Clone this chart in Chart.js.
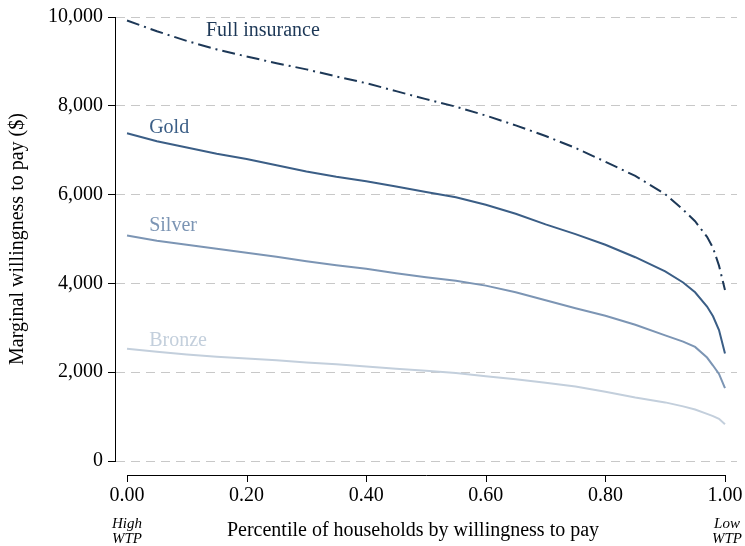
<!DOCTYPE html>
<html>
<head>
<meta charset="utf-8">
<script src="https://cdn.jsdelivr.net/npm/chart.js@4"></script>
<style>
html,body{margin:0;padding:0;background:#fff;}
#c{display:block;}
</style>
</head>
<body>
<canvas id="c" width="745" height="546" style="width:745px;height:546px"></canvas>
<script>
const percentiles = [0, 0.05, 0.1, 0.15, 0.2, 0.25, 0.3, 0.35, 0.4, 0.45, 0.5, 0.55, 0.6, 0.65, 0.7, 0.75, 0.8, 0.85, 0.9, 0.93, 0.95, 0.97, 0.98, 0.99, 1.0];
const fullInsurance = [9920, 9680, 9460, 9270, 9110, 8960, 8820, 8660, 8510, 8330, 8150, 7980, 7780, 7560, 7320, 7050, 6740, 6420, 6010, 5660, 5400, 5050, 4800, 4400, 3850];
const gold = [7380, 7200, 7060, 6920, 6800, 6660, 6520, 6400, 6300, 6180, 6060, 5940, 5770, 5570, 5330, 5110, 4870, 4590, 4270, 4020, 3800, 3480, 3260, 2950, 2420];
const silver = [5080, 4960, 4870, 4780, 4690, 4600, 4500, 4410, 4330, 4230, 4140, 4060, 3950, 3800, 3620, 3440, 3270, 3070, 2830, 2690, 2570, 2330, 2150, 1960, 1640];
const bronze = [2530, 2460, 2400, 2350, 2310, 2270, 2220, 2180, 2130, 2080, 2030, 1980, 1910, 1840, 1760, 1680, 1560, 1430, 1320, 1230, 1160, 1060, 1010, 950, 830];
const xTicks = [0, 0.2, 0.4, 0.6, 0.8, 1.0];
const yTicks = [0, 2000, 4000, 6000, 8000, 10000];
const seriesNames = ['Full insurance', 'Gold', 'Silver', 'Bronze'];
const colors = ['#1d3857', '#3b5e86', '#7c95b4', '#c3cfdc'];
const xTitle = 'Percentile of households by willingness to pay';
const yTitle = 'Marginal willingness to pay ($)';

const SERIF = '"Liberation Serif", "Times New Roman", serif';

function pts(vals){ return percentiles.map((p,i)=>({x:p, y:vals[i]})); }

const labelPos = [
  {x:0.132, y:9700},
  {x:0.037, y:7500},
  {x:0.037, y:5300},
  {x:0.037, y:2700}
];

const extras = {
  id: 'extras',
  afterDraw(chart){
    const ctx = chart.ctx;
    const xs = chart.scales.x, ys = chart.scales.y;
    ctx.save();
    const ay = 475;
    const x0 = xs.getPixelForValue(0), x1 = xs.getPixelForValue(1);
    ctx.strokeStyle = '#000';
    ctx.lineWidth = 1;
    ctx.beginPath();
    ctx.moveTo(Math.round(x0), ay + 0.5); ctx.lineTo(Math.round(x1) + 1, ay + 0.5);
    xTicks.forEach(t => {
      const px = Math.round(xs.getPixelForValue(t)) + 0.5;
      ctx.moveTo(px, ay); ctx.lineTo(px, ay + 7);
    });
    ctx.stroke();
    ctx.fillStyle = '#000';
    ctx.font = '20px ' + SERIF;
    ctx.textAlign = 'center';
    ctx.textBaseline = 'middle';
    ctx.fillText(xTitle, 413, 531);
    ctx.font = 'italic 15px ' + SERIF;
    ctx.fillText('High', x0, 524);
    ctx.fillText('WTP', x0, 539);
    ctx.fillText('Low', x1 + 2, 524);
    ctx.fillText('WTP', x1 + 2, 539);
    ctx.font = '20px ' + SERIF;
    ctx.textAlign = 'left';
    seriesNames.forEach((n, i) => {
      ctx.fillStyle = colors[i];
      ctx.fillText(n, xs.getPixelForValue(labelPos[i].x), ys.getPixelForValue(labelPos[i].y));
    });
    ctx.restore();
  }
};

new Chart(document.getElementById('c'), {
  type: 'line',
  data: {
    datasets: [
      {label: seriesNames[0], data: pts(fullInsurance), borderColor: colors[0], borderWidth: 2, borderDash: [13,5,2,5], pointRadius: 0, tension: 0, fill: false},
      {label: seriesNames[1], data: pts(gold), borderColor: colors[1], borderWidth: 2, pointRadius: 0, tension: 0, fill: false},
      {label: seriesNames[2], data: pts(silver), borderColor: colors[2], borderWidth: 2, pointRadius: 0, tension: 0, fill: false},
      {label: seriesNames[3], data: pts(bronze), borderColor: colors[3], borderWidth: 2, pointRadius: 0, tension: 0, fill: false}
    ]
  },
  options: {
    responsive: false,
    devicePixelRatio: 1,
    animation: false,
    layout: {padding: {top: 16, right: 8, left: 0, bottom: 0}},
    plugins: {legend: {display: false}, tooltip: {enabled: false}},
    scales: {
      x: {
        type: 'linear',
        min: -0.0201,
        max: 1.0201,
        afterBuildTicks(scale){ scale.ticks = xTicks.map(v => ({value: v})); },
        afterFit(scale){ scale.height = 85; scale.paddingLeft = 0; scale.paddingRight = 0; },
        grid: {display: false, drawTicks: false},
        border: {display: false},
        ticks: {
          color: '#000',
          font: {family: SERIF, size: 20},
          padding: 23,
          maxRotation: 0,
          autoSkip: false,
          callback: v => Number(v).toFixed(2)
        }
      },
      y: {
        type: 'linear',
        min: 0,
        max: 10000,
        afterBuildTicks(scale){ scale.ticks = yTicks.map(v => ({value: v})); },
        afterFit(scale){ scale.width = 115; },
        grid: {color: '#c8c8c8', lineWidth: 1, tickColor: '#000', tickLength: 7, drawTicks: true},
        border: {display: true, color: '#000', width: 1, dash: [9,6]},
        ticks: {
          color: '#000',
          font: {family: SERIF, size: 20},
          padding: 5,
          callback: v => Number(v).toLocaleString('en-US')
        },
        title: {
          display: true,
          text: yTitle,
          color: '#000',
          font: {family: SERIF, size: 20},
          padding: {top: 6, bottom: 0}
        }
      }
    }
  },
  plugins: [extras]
});
</script>
</body>
</html>
